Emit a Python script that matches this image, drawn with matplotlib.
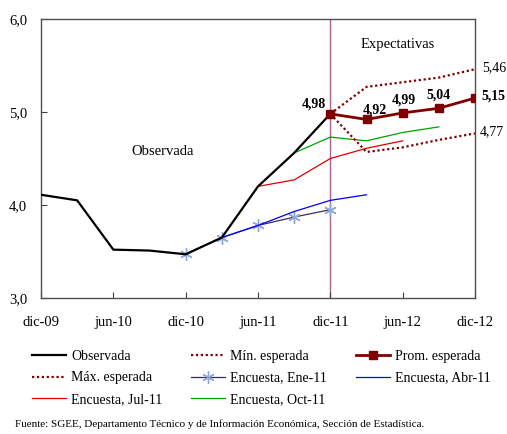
import matplotlib
matplotlib.use('Agg')
import matplotlib.pyplot as plt
from matplotlib.ticker import FuncFormatter

plt.rcParams['font.family'] = ['Liberation Serif', 'DejaVu Serif']

# quarters: 0 = dic-09 ... 12 = dic-12
tick_pos = [0, 2, 4, 6, 8, 10, 12]
tick_labels = ['dic-09', 'jun-10', 'dic-10', 'jun-11', 'dic-11', 'jun-12', 'dic-12']

obs_x = [0, 1, 2, 3, 4, 5, 6, 7, 8]
obs_y = [4.11, 4.05, 3.52, 3.51, 3.47, 3.65, 4.20, 4.56, 4.98]

exp_x = [8, 9, 10, 11, 12]
prom_y = [4.98, 4.92, 4.99, 5.04, 5.15]
min_y = [4.98, 4.57, 4.62, 4.70, 4.77]
max_y = [4.98, 5.27, 5.32, 5.37, 5.46]

ene_x = [4, 5, 6, 7, 8]
ene_y = [3.47, 3.65, 3.78, 3.87, 3.95]
abr_x = [5, 6, 7, 8, 9]
abr_y = [3.65, 3.78, 3.93, 4.05, 4.11]
jul_x = [6, 7, 8, 9, 10]
jul_y = [4.20, 4.27, 4.50, 4.61, 4.69]
oct_x = [7, 8, 9, 10, 11]
oct_y = [4.56, 4.73, 4.69, 4.78, 4.84]

darkred = '#800000'

fig = plt.figure(figsize=(5.07, 4.34), dpi=100)
ax = fig.add_axes([41/507, 1-298/434, 434/507, 279/434])

ax.axvline(8, color='#b0608c', lw=1.0, zorder=1)

l_ene, = ax.plot(ene_x, ene_y, color='#3c2c5c', lw=0.9, marker=(6, 2, 0),
                 markersize=9, markeredgecolor='#8fa8d8', markeredgewidth=1.0, zorder=3)
l_abr, = ax.plot(abr_x, abr_y, color='#0000ff', lw=0.9, zorder=3)
l_jul, = ax.plot(jul_x, jul_y, color='#e00000', lw=0.9, zorder=3)
l_oct, = ax.plot(oct_x, oct_y, color='#00a000', lw=0.9, zorder=3)
l_obs, = ax.plot(obs_x, obs_y, color='black', lw=1.6, zorder=4)
l_min, = ax.plot(exp_x, min_y, color=darkred, lw=1.6, linestyle=(0, (1, 1.2)), zorder=4)
l_max, = ax.plot(exp_x, max_y, color=darkred, lw=1.6, linestyle=(0, (1, 1.2)), zorder=4)
l_prom, = ax.plot(exp_x, prom_y, color=darkred, lw=2.0, marker='s', markersize=6, zorder=5)

# value labels
offsets = [(-11.5, 7.3), (5.8, 6.7), (0.7, 9.4), (0, 9.6), (13, 1.2)]
for xv, yv, off in zip(exp_x, prom_y, offsets):
    ax.annotate(f'{yv:.2f}'.replace('.', ','), (xv, yv), xytext=off,
                textcoords='offset points', ha='center', va='center',
                fontsize=10, fontweight='bold', annotation_clip=False)
ax.annotate(f'{max_y[-1]:.2f}'.replace('.', ','), (exp_x[-1], max_y[-1]), xytext=(13.7, 1.1),
            textcoords='offset points', ha='center', va='center', fontsize=10,
            annotation_clip=False)
ax.annotate(f'{min_y[-1]:.2f}'.replace('.', ','), (exp_x[-1], min_y[-1]), xytext=(12.2, 1.1),
            textcoords='offset points', ha='center', va='center', fontsize=10,
            annotation_clip=False)

ax.text(3.37, 4.58, 'Observada', ha='center', va='center', fontsize=10.5)
ax.text(9.87, 5.73, 'Expectativas', ha='center', va='center', fontsize=10.5)

ax.set_xlim(0, 12)
ax.set_ylim(3.0, 6.0)
ax.set_xticks(tick_pos)
ax.set_xticklabels(tick_labels)
ax.set_yticks([3.0, 4.0, 5.0, 6.0])
ax.yaxis.set_major_formatter(FuncFormatter(lambda v, p: f'{v:.1f}'.replace('.', ',')))
ax.tick_params(direction='in', length=4, width=0.8, labelsize=10.5, color='#404040')
ax.tick_params(axis='x', pad=13)
ax.tick_params(axis='y', pad=10)
for s in ax.spines.values():
    s.set_color('#505050')
    s.set_linewidth(1.0)

handles = [l_obs, l_max, l_jul, l_min, l_ene, l_oct, l_prom, l_abr]
labels = ['Observada', 'Máx. esperada', 'Encuesta, Jul-11',
          'Mín. esperada', 'Encuesta, Ene-11', 'Encuesta, Oct-11',
          'Prom. esperada', 'Encuesta, Abr-11']
fig.legend(handles, labels, ncol=3, loc='center', bbox_to_anchor=(261.5/507, 1-378/434),
           frameon=False, fontsize=10, handlelength=2.45, handletextpad=0.36,
           columnspacing=2.1, labelspacing=0.62, borderpad=0)

fig.text(15/507, 1-424/434, 'Fuente: SGEE, Departamento Técnico y de Información Económica, '
         'Sección de Estadística.', fontsize=8, va='center', ha='left')

fig.savefig('out.png', dpi=100)
